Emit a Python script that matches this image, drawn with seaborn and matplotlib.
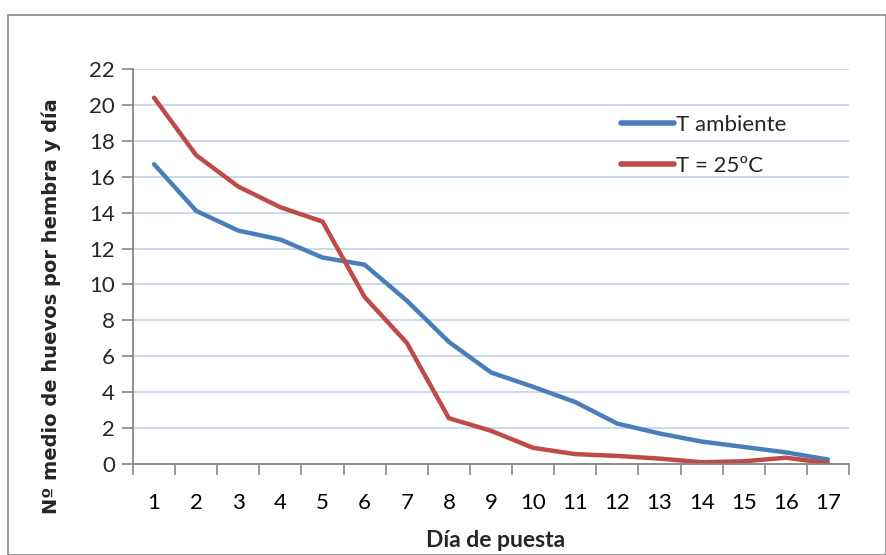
import matplotlib
matplotlib.use("Agg")
import matplotlib.pyplot as plt
import seaborn as sns
import pandas as pd
from matplotlib.patches import Rectangle
from matplotlib.ticker import FixedLocator

dias = list(range(1, 18))
t_ambiente = [16.7, 14.1, 13.0, 12.5, 11.5, 11.1, 9.1, 6.8, 5.1, 4.3, 3.45, 2.25, 1.7, 1.25, 0.95, 0.65, 0.25]
t_25 = [20.4, 17.2, 15.45, 14.3, 13.5, 9.3, 6.75, 2.55, 1.85, 0.9, 0.55, 0.45, 0.3, 0.1, 0.15, 0.35, 0.05]
series_names = ["T ambiente", "T = 25ºC"]
y_ticks = list(range(0, 23, 2))

df = pd.DataFrame({
    "dia": dias * 2,
    "valor": t_ambiente + t_25,
    "serie": [series_names[0]] * len(dias) + [series_names[1]] * len(dias),
})

sns.set_theme(style="white")
plt.rcParams["font.family"] = ["Lato", "DejaVu Sans"]

fig = plt.figure(figsize=(8.86, 5.55), dpi=100)
ax = fig.add_axes([133 / 886, 1 - 464 / 555, (849 - 133) / 886, (464 - 69) / 555])

# outer chart border
fig.patches.append(Rectangle((8 / 886, 0), 1 - 8 / 886, 1 - 15 / 555, transform=fig.transFigure,
                             fill=False, edgecolor="#868686", linewidth=1.2, zorder=0))

palette = {series_names[0]: "#4A7EBB", series_names[1]: "#BE4B48"}
sns.lineplot(data=df, x="dia", y="valor", hue="serie", palette=palette, linewidth=3.2,
             ax=ax, legend=True, solid_capstyle="round")

ax.set_xlim(0.5, 17.5)
ax.set_ylim(0, 22)
ax.set_yticks(y_ticks)
ax.set_yticklabels([str(v) for v in y_ticks], fontsize=16)
ax.set_xticks(dias)
ax.set_xticklabels([str(d) for d in dias], fontsize=16)
ax.xaxis.set_minor_locator(FixedLocator([d + 0.5 for d in range(0, 18)]))
ax.tick_params(axis="x", which="major", length=0, pad=21, colors="black")
ax.tick_params(axis="x", which="minor", length=8, width=1.2, color="#868686", bottom=True)
ax.tick_params(axis="y", which="major", length=8, width=1.2, color="#868686", left=True, pad=5)

ax.yaxis.grid(True, color="#C8D4E6", linewidth=1.3)
ax.xaxis.grid(False)
ax.set_axisbelow(True)
for side in ["top", "right"]:
    ax.spines[side].set_visible(False)
for side in ["left", "bottom"]:
    ax.spines[side].set_color("#868686")
    ax.spines[side].set_linewidth(1.3)

ax.set_xlabel("Día de puesta", fontsize=16.5, fontweight="bold")
ax.set_ylabel("Nº medio de huevos por hembra y día", fontsize=14, fontweight="bold",
              family=["DejaVu Sans"])
ax.yaxis.set_label_coords(-(133 - 61) / 716, (464 - 306) / 395)
ax.xaxis.set_label_coords((496 - 133) / 716, -(530 - 464) / 395)

leg = ax.legend(loc="upper left", bbox_to_anchor=((612 - 133) / 716, 1 - (106 - 69) / 395),
                frameon=False, fontsize=16, handlelength=2.4, handletextpad=0.1,
                labelspacing=0.95, borderaxespad=0)
for line in leg.get_lines():
    line.set_linewidth(4)

fig.savefig("out.png", dpi=100, facecolor="white")
